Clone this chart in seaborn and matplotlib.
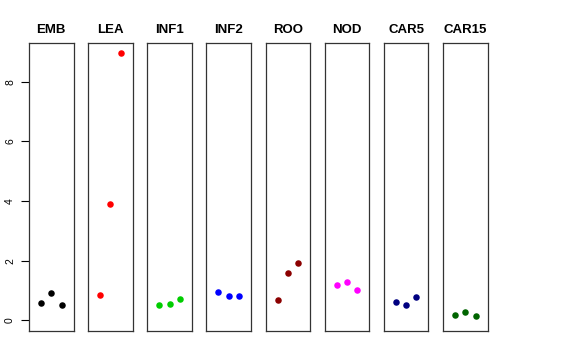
import matplotlib
matplotlib.use("Agg")
import matplotlib.pyplot as plt
import seaborn as sns
import pandas as pd

sns.set_style("white")
plt.rcParams['font.family'] = ['Liberation Sans', 'DejaVu Sans']
plt.rcParams['text.color'] = 'black'
plt.rcParams['ytick.color'] = 'black'
plt.rcParams['ytick.labelcolor'] = 'black'

tissues = ["EMB", "LEA", "INF1", "INF2", "ROO", "NOD", "CAR5", "CAR15"]
colors = ["#000000", "#FF0000", "#00CD00", "#0000FF", "#8B0000", "#FF00FF", "#000080", "#006400"]
emb = [0.57, 0.91, 0.50]
lea = [0.84, 3.89, 8.95]
inf1 = [0.51, 0.54, 0.71]
inf2 = [0.96, 0.81, 0.81]
roo = [0.69, 1.59, 1.92]
nod = [1.18, 1.30, 1.01]
car5 = [0.60, 0.51, 0.79]
car15 = [0.19, 0.29, 0.14]
replicates = [1, 2, 3]
yticks = [0, 2, 4, 6, 8]

values = [emb, lea, inf1, inf2, roo, nod, car5, car15]

W, H = 576, 360
fig = plt.figure(figsize=(W / 100, H / 100), dpi=100)

for i, (name, col, vals) in enumerate(zip(tissues, colors, values)):
    left = 29 + i * 59.15
    ax = fig.add_axes([left / W, 29 / H, 44.5 / W, 288 / H])
    df = pd.DataFrame({"rep": replicates, "value": vals})
    sns.scatterplot(data=df, x="rep", y="value", color=col, s=22,
                    linewidth=0, ax=ax, legend=False)
    ax.set_xlim(-0.16, 4.16)
    ax.set_ylim(-0.36, 9.3)
    ax.set_xlabel("")
    ax.set_ylabel("")
    ax.set_xticks([])
    for sp in ax.spines.values():
        sp.set_visible(True)
        sp.set_color("#333333")
        sp.set_linewidth(0.9)
    ax.set_title(name, fontsize=9.5, fontweight="bold", pad=7, color="black")
    if i == 0:
        ax.set_yticks(yticks)
        ax.set_yticklabels([str(t) for t in yticks], rotation=90, va="center", fontsize=7.5)
        ax.tick_params(axis="y", which="major", direction="out", length=6, width=0.8,
                       pad=4, left=True, labelleft=True, color="black", labelcolor="black")
    else:
        ax.set_yticks([])

fig.savefig("out.png", dpi=100)
